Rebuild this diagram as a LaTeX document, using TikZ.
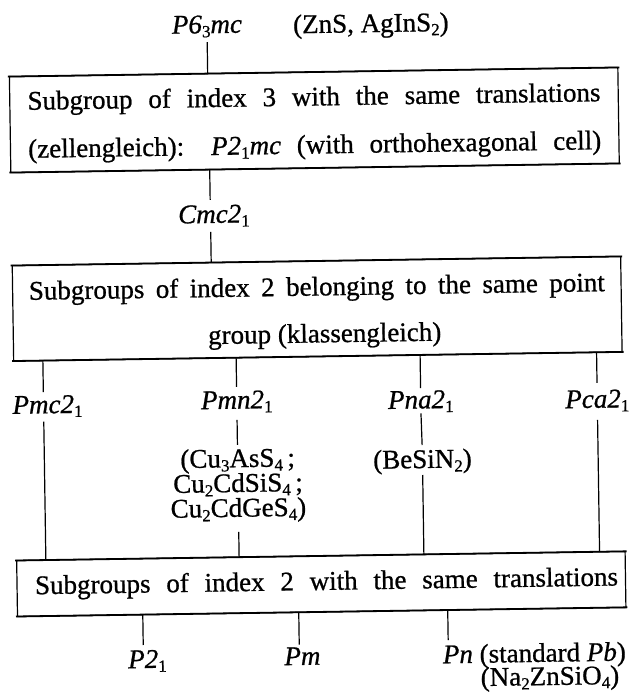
\documentclass[tikz,border=0pt]{standalone}
\usepackage{fontspec}
\setmainfont{Liberation Serif}[FakeBold=0.8]
\usetikzlibrary{calc}
% lowered, smaller index for formulae and space-group symbols
\newcommand\sbx[1]{\raisebox{-4pt}{\fontsize{17}{17}\selectfont #1}}
\tikzset{
  lbl/.style={inner sep=0pt, outer sep=0pt, anchor=base, text height=18pt, text depth=5pt},
  frame/.style={draw, line width=1.2pt, inner sep=0pt, outer sep=0pt, minimum width=608.5pt},
  rule/.style={line width=1.8pt, shorten <=-1.5pt, shorten >=-1.5pt},
  link/.style={line width=1.2pt},
}
\begin{document}
\begin{tikzpicture}[x=1pt, y=-1pt, font=\fontsize{27}{32}\selectfont]
\fill[white] (0,0) rectangle (633,696);
\useasboundingbox (0,0) rectangle (633,696);
\begin{scope}[rotate around={0.86:(316.5,348)}, transform shape]

% ---- the three boxes
\node[frame, minimum height=96pt]   (b1) at (317.75,120)    {};
\node[frame, minimum height=95.5pt] (b2) at (317.75,308.75) {};
\node[frame, minimum height=56pt]   (b3) at (317.75,584)    {};
\foreach \b in {b1,b2,b3}{
  \draw[rule] (\b.north west) -- (\b.north east);
  \draw[rule] (\b.south west) -- (\b.south east);
}

% ---- box texts
\node[lbl] (b1l1) at (317.75,105.5) {\makebox[573pt][s]{Subgroup of index 3 with the same translations}};
\node[lbl] (b1l2) at (317.75,153.5) {\makebox[573pt][s]{(zellengleich): \textit{P2}\sbx{1}\textit{mc} (with orthohexagonal cell)}};
\node[lbl] (b2l1) at (317.75,295.5) {\makebox[576pt][s]{Subgroups of index 2 belonging to the same point}};
\node[lbl, anchor=base east] (b2l2) at (441.5,342.5) {group (klassengleich)};
\node[lbl] (b3l1) at (323,590) {\makebox[583pt][s]{Subgroups of index 2 with the same translations}};

% ---- group symbols and compounds
\node[lbl] (p63) at (211.8,31.6) {\textit{P6}\sbx{3}\textit{mc}};
\node[lbl, anchor=base west] (zns) at (298,33) {(ZnS, AgInS\sbx{2})};
\node[lbl] (cmc) at (216,221.4) {\textit{Cmc2}\sbx{1}};

\node[lbl] (pmc) at (46.7,409.3) {\textit{Pmc2}\sbx{1}};
\node[lbl] (pmn) at (236,407.5) {\textit{Pmn2}\sbx{1}};
\node[lbl] (pna) at (420,410)   {\textit{Pna2}\sbx{1}};
\node[lbl] (pca) at (596.5,412) {\textit{Pca2}\sbx{1}};

\node[lbl] (cu1) at (236,466)   {(Cu\sbx{3}AsS\sbx{4}\,;};
\node[lbl] (cu2) at (236,490.8) {Cu\sbx{2}CdSiS\sbx{4}\,;};
\node[lbl] (cu3) at (236,515.6) {Cu\sbx{2}CdGeS\sbx{4})};
\node[lbl] (besin) at (420.8,469.6) {(BeSiN\sbx{2})};

\node[lbl] (p21) at (142.8,665.4) {\textit{P2}\sbx{1}};
\node[lbl] (pm)  at (297.8,664.7) {\textit{Pm}};
\node[lbl, anchor=base west] (pn) at (438.3,665.2) {\textit{Pn} (standard \textit{Pb})};
\node[lbl] (na) at (545,688.5) {(Na\sbx{2}ZnSiO\sbx{4})};

% ---- connectors
\begin{scope}[link]
\draw[shorten <=3.8pt] (p63.south) -- ($(b1.north west)!(p63.south)!(b1.north east)$);
\draw[shorten >=5pt] ($(b1.south west)!([xshift=-3.6pt]cmc.north)!(b1.south east)$) -- ([xshift=-3.6pt]cmc.north);
\draw[shorten <=4pt] ([xshift=-3.5pt]cmc.south) -- ($(b2.north west)!([xshift=-3.5pt]cmc.south)!(b2.north east)$);

\draw[shorten >=3.3pt] ($(b2.south west)!([xshift=-4pt]pmc.north)!(b2.south east)$) -- ([xshift=-4pt]pmc.north);
\draw[shorten <=3.3pt] ([xshift=-4pt]pmc.south) -- ($(b3.north west)!([xshift=-4pt]pmc.south)!(b3.north east)$);

\draw[shorten >=3.7pt] ($(b2.south west)!(pmn.north)!(b2.south east)$) -- (pmn.north);
\draw[shorten <=6.3pt, shorten >=4.2pt] (pmn.south) -- (cu1.north);
\draw[shorten <=10.2pt] (cu3.south) -- ($(b3.north west)!(cu3.south)!(b3.north east)$);

\draw[shorten >=2.4pt] ($(b2.south west)!(pna.north)!(b2.south east)$) -- (pna.north);
\draw[shorten >=5pt] (pna.south) -- (besin.north);
\draw[shorten <=2pt] (besin.south) -- ($(b3.north west)!(besin.south)!(b3.north east)$);

\draw[shorten >=7pt] ($(b2.south west)!(pca.north)!(b2.south east)$) -- (pca.north);
\draw[shorten <=7.2pt] (pca.south) -- ($(b3.north west)!(pca.south)!(b3.north east)$);

\draw[shorten >=5pt] ($(b3.south west)!([xshift=-4pt]p21.north)!(b3.south east)$) -- ([xshift=-4pt]p21.north);
\draw[shorten >=2.3pt] ($(b3.south west)!([xshift=-3pt]pm.north)!(b3.south east)$) -- ([xshift=-3pt]pm.north);
\draw[shorten >=5pt] ($(b3.south west)!([xshift=5.5pt]pn.north west)!(b3.south east)$) -- ([xshift=5.5pt]pn.north west);
\end{scope}

\end{scope}
\end{tikzpicture}
\end{document}
